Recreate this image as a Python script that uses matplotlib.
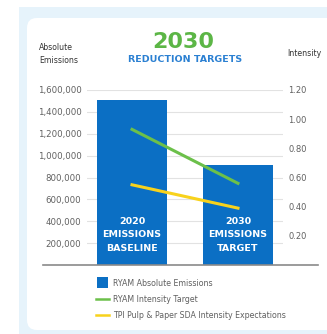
import matplotlib
matplotlib.use("agg")
import matplotlib.pyplot as plt
from matplotlib.patches import FancyBboxPatch, Rectangle
import numpy as np

plt.rcParams["font.family"] = ["DejaVu Sans"]

# emissions (tCO2e) and intensity targets
categories = ["2020\nEMISSIONS\nBASELINE", "2030\nEMISSIONS\nTARGET"]
absolute_emissions = [1510000, 910000]
ryam_intensity = [0.93, 0.56]
tpi_intensity = [0.55, 0.39]
left_ticks = [200000, 400000, 600000, 800000, 1000000, 1200000, 1400000, 1600000]
right_ticks = [0.20, 0.40, 0.60, 0.80, 1.00, 1.20]

BLUE = "#0b6fc4"
GREEN = "#6cc04a"
YELLOW = "#f8d21c"
TEXT = "#606060"

W, H = 327, 334
fig = plt.figure(figsize=(W / 100, H / 100), dpi=100)
fig.patch.set_facecolor("white")

# light blue frame and white card behind the chart
fig.patches.append(Rectangle((19 / W, 0), 1, 1 - 7 / H, transform=fig.transFigure,
                             facecolor="#e6f3fb", edgecolor="none", zorder=-10))
fig.patches.append(FancyBboxPatch((27 / W, 4 / H), 1, 1 - 18 / H - 4 / H,
                                  boxstyle="round,pad=0,rounding_size=0.03",
                                  transform=fig.transFigure, facecolor="white",
                                  edgecolor="none", zorder=-9))

ax = fig.add_axes([87 / W, (H - 265) / H, 196 / W, 175 / H])
ax.set_facecolor("none")
x = np.arange(len(categories))
ax.bar(x, absolute_emissions, width=0.66, color=BLUE, zorder=2)
for xi, lab in zip(x, categories):
    ax.text(xi, 275000, lab, ha="center", va="center", color="white",
            fontsize=6.8, fontweight="bold", linespacing=1.6, zorder=3)

ax.set_xlim(-0.425, 1.425)
ax.set_ylim(0, 1600000)
ax.set_xticks([])
ax.set_yticks(left_ticks)
ax.set_yticklabels([f"{v:,}" for v in left_ticks])
ax.tick_params(axis="y", length=0, pad=4, labelsize=6.2, labelcolor=TEXT)
ax.grid(axis="y", color="#e2e2e2", linewidth=0.8, zorder=0)
for s in ax.spines.values():
    s.set_visible(False)
# baseline running past both axes
ax.plot([-0.224, 1.179], [0, 0], transform=ax.get_yaxis_transform(),
        color="#8a8a8a", linewidth=1.2, clip_on=False, zorder=4)

ax2 = ax.twinx()
ax2.set_ylim(0, 1.2)
ax2.plot(x, ryam_intensity, color=GREEN, linewidth=2.2, zorder=5)
ax2.plot(x, tpi_intensity, color=YELLOW, linewidth=2.2, zorder=5)
ax2.set_yticks(right_ticks)
ax2.set_yticklabels([f"{v:.2f}" for v in right_ticks])
ax2.tick_params(axis="y", length=0, pad=4, labelsize=6.0, labelcolor=TEXT)
for s in ax2.spines.values():
    s.set_visible(False)

# headings
fig.text(183 / W, 1 - 42 / H, "2030", ha="center", va="center", color="#5cb646",
         fontsize=16, fontweight="bold")
fig.text(185 / W, 1 - 60 / H, "REDUCTION TARGETS", ha="center", va="center",
         color="#2b80d2", fontsize=6.8, fontweight="bold")
fig.text(39 / W, 1 - 54 / H, "Absolute\nEmissions", ha="left", va="center",
         color="#333333", fontsize=5.6, linespacing=1.5)
fig.text(287 / W, 1 - 54 / H, "Intensity", ha="left", va="center",
         color="#333333", fontsize=5.6)

# legend
fig.patches.append(Rectangle((97 / W, 1 - 288 / H), 11 / W, 11 / H,
                             transform=fig.transFigure, facecolor=BLUE,
                             edgecolor="none"))
fig.lines.append(plt.Line2D([96 / W, 109 / W], [1 - 299 / H] * 2,
                            transform=fig.transFigure, color=GREEN, linewidth=1.8))
fig.lines.append(plt.Line2D([96 / W, 109 / W], [1 - 315 / H] * 2,
                            transform=fig.transFigure, color=YELLOW, linewidth=1.8))
legend_labels = ["RYAM Absolute Emissions", "RYAM Intensity Target",
                 "TPI Pulp & Paper SDA Intensity Expectations"]
for lab, yy in zip(legend_labels, [283, 299, 315]):
    fig.text(113 / W, 1 - yy / H, lab, ha="left", va="center", color=TEXT,
             fontsize=5.7)

fig.savefig("out.png", dpi=100)
